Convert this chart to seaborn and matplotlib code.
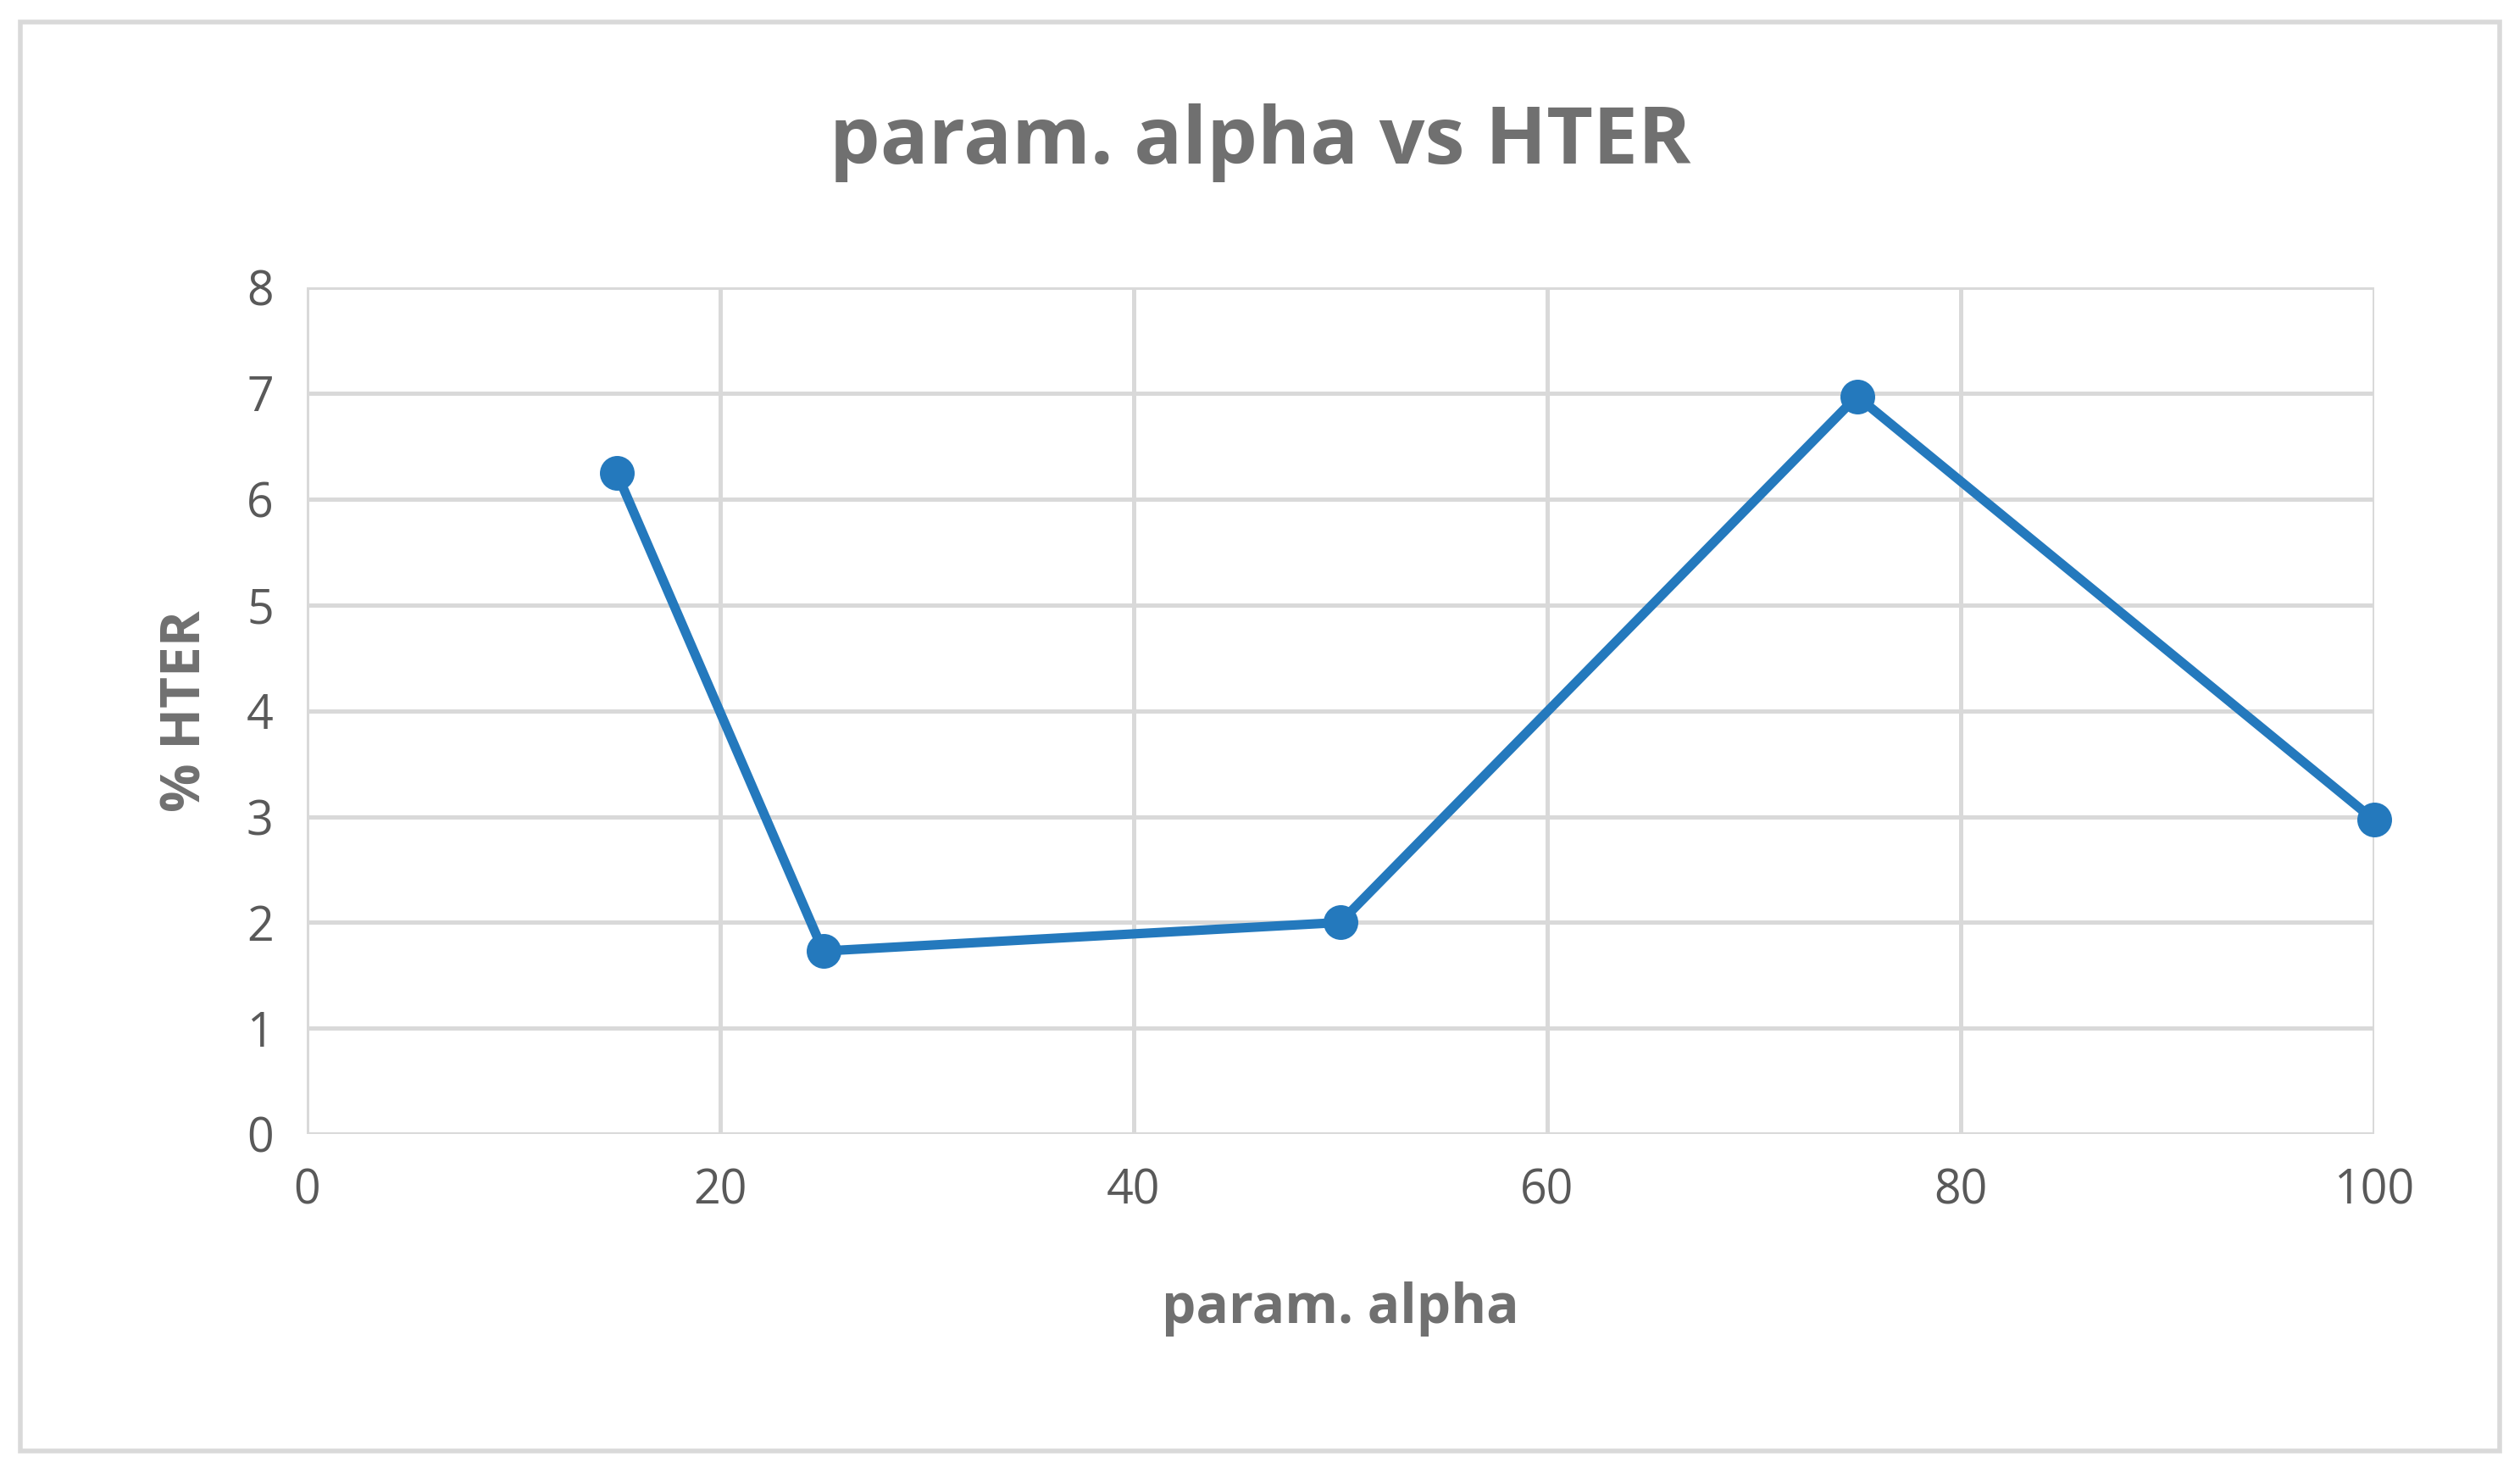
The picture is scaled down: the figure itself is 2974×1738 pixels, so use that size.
import matplotlib
matplotlib.use("Agg")
import matplotlib.pyplot as plt
import seaborn as sns
import pandas as pd
from matplotlib.patches import Rectangle

alpha = [15, 25, 50, 75, 100]
hter = [6.25, 1.73, 2.0, 6.97, 2.97]
xticks = [0, 20, 40, 60, 80, 100]
yticks = [0, 1, 2, 3, 4, 5, 6, 7, 8]

sns.set_theme(style="white")
plt.rcParams['font.family'] = ['Open Sans', 'DejaVu Sans']
df = pd.DataFrame({"alpha": alpha, "hter": hter})

fig = plt.figure(figsize=(14.87, 8.69), dpi=200)
ax = fig.add_axes([0.1216, 0.23, 0.8204, 0.575])
sns.lineplot(data=df, x="alpha", y="hter", ax=ax, color="#2479BD", linewidth=4,
             marker="o", markersize=14, markeredgecolor="#2479BD")
for ln in ax.lines:
    ln.set_clip_on(False)
ax.set_xlim(0, 100)
ax.set_ylim(0, 8)
ax.set_xticks(xticks)
ax.set_yticks(yticks)
ax.grid(True, color="#D9D9D9", linewidth=1.8)
for s in ax.spines.values():
    s.set_visible(False)
ax.axhline(0, color="#D9D9D9", linewidth=1.8, zorder=0)
ax.tick_params(labelsize=20, colors="#595959", length=0, pad=14)
ax.set_xlabel("param. alpha", fontsize=23, fontweight="bold", color="#707070", labelpad=28)
ax.set_ylabel("% HTER", fontsize=23, fontweight="bold", color="#707070", labelpad=14)
fig.suptitle("param. alpha vs HTER", fontsize=34, fontweight="bold", color="#707070", y=0.93)
fig.patches.append(Rectangle((0.008, 0.015), 0.984, 0.97, transform=fig.transFigure,
                             fill=False, edgecolor="#D9D9D9", linewidth=2))
fig.savefig("out.png", dpi=200, facecolor="white")
